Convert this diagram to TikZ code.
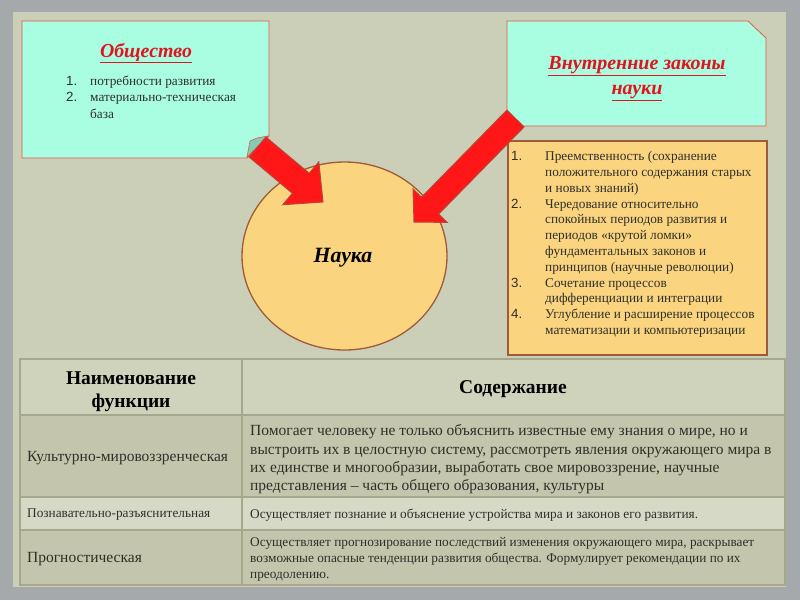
\documentclass[tikz,border=0pt]{standalone}
\usepackage{fontspec}
\setmainfont{Liberation Serif}
\newfontfamily\numfont{Liberation Sans}
\usepackage{array}
\definecolor{outerbg}{HTML}{A5A9AC}
\definecolor{slidebg}{HTML}{CCCFB8}
\definecolor{mint}{HTML}{A9FDE0}
\definecolor{mintdark}{HTML}{86C9B6}
\definecolor{boxred}{HTML}{E25A4A}
\definecolor{titlered}{HTML}{E0141E}
\definecolor{orangefill}{HTML}{FAD47F}
\definecolor{brownline}{HTML}{A05A3A}
\definecolor{arrowred}{HTML}{FF1616}
\definecolor{arrowline}{HTML}{B8473A}
\definecolor{hdrfill}{HTML}{CFD3BC}
\definecolor{darkrow}{HTML}{C3C6AC}
\definecolor{lightrow}{HTML}{D6D9C5}
\definecolor{tline}{HTML}{A6A78D}
\definecolor{bodytext}{HTML}{2F2F2A}
\tikzset{
  mintbox/.style={draw=boxred, fill=mint, line width=0.8pt},
  orangeshape/.style={draw=brownline, fill=orangefill, line width=1.3pt},
  bigarrow/.style={draw=arrowline, fill=arrowred, line width=1pt, line join=miter},
  titletext/.style={text=titlered, font=\fontsize{19.8}{25}\selectfont\bfseries\itshape, align=center, inner sep=0pt},
  listtext/.style={text=bodytext, font=\fontsize{13.3}{15.8}\selectfont, inner sep=0pt, anchor=north west},
  cellbig/.style={text=bodytext, font=\fontsize{15.5}{18.3}\selectfont, inner sep=0pt, anchor=west, align=left},
  cellsmall/.style={text=bodytext, font=\fontsize{13.3}{16}\selectfont, inner sep=0pt, anchor=west, align=left},
  cellhead/.style={text=black, font=\fontsize{19.5}{23}\selectfont\bfseries, inner sep=0pt, align=center},
  tablerule/.style={draw=tline, line width=1.8pt},
}
\begin{document}
\begin{tikzpicture}[x=1pt,y=-1pt]
\useasboundingbox (0,0) rectangle (800,600);
\fill[outerbg] (0,0) rectangle (800,600);
\fill[slidebg] (13,12) rectangle (786,587);

% Box 1: Общество
\draw[mintbox] (22,21) -- (269,21) -- (269,136) -- (247,158) -- (22,158) -- cycle;
\draw[boxred, fill=mintdark, line width=0.6pt] (247,157) -- (250,141) -- (257,138) -- (268,136) -- cycle;
\node[titletext] (society) at (146,53) {\underline{Общество}};
\node[listtext, font=\fontsize{13.3}{16.5}\selectfont] (societylist) at (66,73.5) {\begin{tabular}{@{}p{24pt}@{}l@{}}
\numfont 1. & потребности развития\\
\numfont 2. & материально-техническая\\
 & база
\end{tabular}};

% Box 2: Внутренние законы науки
\draw[mintbox] (507,21) -- (748,21) -- (766,38) -- (766,126) -- (507,126) -- cycle;
\node[titletext, font=\fontsize{20}{25}\selectfont\bfseries\itshape] (laws) at (637,79) {\underline{Внутренние законы}\\\underline{науки}};

% Circle: Наука
\draw[orangeshape] (344.5,256) ellipse [x radius=102.5, y radius=94];
\node[font=\fontsize{21.8}{26}\selectfont\bfseries\itshape, inner sep=0pt] (science) at (343,258) {Наука};

% Box 3: list of laws
\draw[orangeshape, line width=1.6pt] (508,141) rectangle (767,355);
\node[listtext] (lawslist) at (511,149.5) {\begin{tabular}{@{}p{34pt}@{}l@{}}
\numfont 1. & Преемственность (сохранение\\
 & положительного содержания старых\\
 & и новых знаний)\\
\numfont 2. & Чередование относительно\\
 & спокойных периодов развития и\\
 & периодов «крутой ломки»\\
 & фундаментальных законов и\\
 & принципов (научные революции)\\
\numfont 3. & Сочетание процессов\\
 & дифференциации и интеграции\\
\numfont 4. & Углубление и расширение процессов\\
 & математизации и компьютеризации
\end{tabular}};

% Arrows
\draw[bigarrow] (265.9,137.0) -- (309.2,173.3) -- (318.8,161.9) -- (323,202) -- (282.8,204.7) -- (292.4,193.3) -- (249.1,157.0) -- cycle;
\draw[bigarrow] (506.9,110.1) -- (421.5,197.2) -- (413.0,188.8) -- (414,222) -- (447.2,222.4) -- (438.7,214.0) -- (524.1,126.9) -- cycle;

% Table
\fill[hdrfill] (20,359) rectangle (785,415);
\fill[darkrow] (20,415) rectangle (785,497);
\fill[lightrow] (20,497) rectangle (785,530);
\fill[darkrow] (20,530) rectangle (785,585);
\draw[tablerule] (20,359) rectangle (785,585);
\draw[tablerule] (20,415) -- (785,415);
\draw[tablerule] (20,497) -- (785,497);
\draw[tablerule] (20,530) -- (785,530);
\draw[tablerule] (242,359) -- (242,585);

\node[cellhead] (h1) at (131,392) {Наименование\\функции};
\node[cellhead] (h2) at (513,389) {Содержание};

\node[cellbig] (r1a) at (27,458) {Культурно-мировоззренческая};
\node[cellbig] (r1b) at (250,459.5) {Помогает человеку не только объяснить известные ему знания о мире, но и\\выстроить их в целостную систему, рассмотреть явления окружающего мира в\\их единстве и многообразии, выработать свое мировоззрение, научные\\представления – часть общего образования, культуры};

\node[cellsmall] (r2a) at (27,515) {Познавательно-разъяснительная};
\node[cellsmall] (r2b) at (250,515) {Осуществляет познание и объяснение устройства мира и законов его развития.};

\node[cellbig] (r3a) at (27,559) {Прогностическая};
\node[cellsmall] (r3b) at (250,559.5) {Осуществляет прогнозирование последствий изменения окружающего мира, раскрывает\\возможные опасные тенденции развития общества. Формулирует рекомендации по их\\преодолению.};
\end{tikzpicture}
\end{document}
